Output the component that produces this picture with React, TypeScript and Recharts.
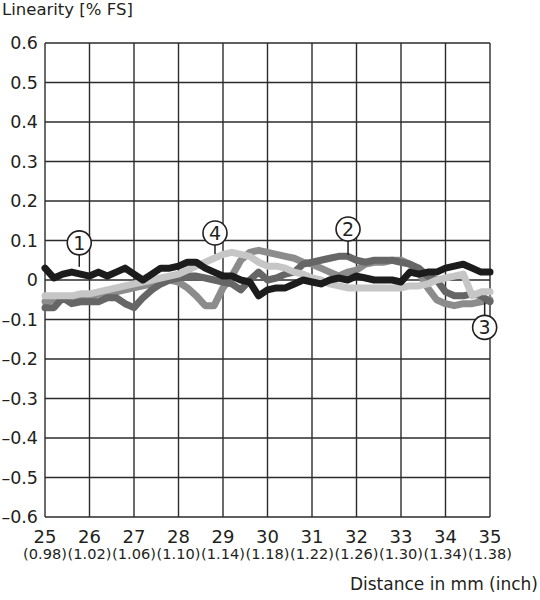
import React from "react";
import {
  LineChart,
  Line,
  XAxis,
  YAxis,
  CartesianGrid,
  ReferenceDot,
} from "recharts";

const DISTANCE = [
  25.0, 25.2, 25.4, 25.6, 25.8, 26.0, 26.2, 26.4, 26.6, 26.8,
  27.0, 27.2, 27.4, 27.6, 27.8, 28.0, 28.2, 28.4, 28.6, 28.8,
  29.0, 29.2, 29.4, 29.6, 29.8, 30.0, 30.2, 30.4, 30.6, 30.8,
  31.0, 31.2, 31.4, 31.6, 31.8, 32.0, 32.2, 32.4, 32.6, 32.8,
  33.0, 33.2, 33.4, 33.6, 33.8, 34.0, 34.2, 34.4, 34.6, 34.8, 35.0,
];

// sensor 1 (black)
const S1 = [
  0.03, 0.005, 0.015, 0.02, 0.015, 0.01, 0.02, 0.01, 0.02, 0.03,
  0.015, 0.0, 0.015, 0.03, 0.03, 0.035, 0.045, 0.045, 0.03, 0.02,
  0.01, 0.01, 0.0, -0.005, -0.04, -0.025, -0.02, -0.02, -0.01, 0.0,
  -0.005, -0.01, 0.0, 0.005, 0.0, 0.01, 0.005, 0.0, 0.0, 0.0,
  -0.005, 0.02, 0.015, 0.02, 0.02, 0.03, 0.035, 0.04, 0.03, 0.02, 0.02,
];

// sensor 2 (dark grey)
const S2 = [
  -0.07, -0.07, -0.045, -0.06, -0.055, -0.055, -0.055, -0.045, -0.045, -0.06,
  -0.07, -0.045, -0.025, -0.01, 0.0, 0.005, 0.01, 0.01, 0.005, 0.0,
  -0.005, -0.01, -0.025, 0.0, 0.02, 0.0, 0.005, 0.015, 0.02, 0.04,
  0.045, 0.05, 0.055, 0.06, 0.06, 0.05, 0.045, 0.05, 0.05, 0.05,
  0.045, 0.04, 0.03, 0.01, 0.0, -0.03, -0.04, -0.04, -0.035, -0.04, -0.055,
];

// sensor 3 (mid grey)
const S3 = [
  -0.055, -0.05, -0.045, -0.045, -0.045, -0.045, -0.035, -0.03, -0.03, -0.025,
  -0.02, -0.015, -0.01, -0.005, 0.0, -0.005, -0.02, -0.04, -0.065, -0.065,
  -0.02, 0.01, 0.05, 0.07, 0.075, 0.07, 0.065, 0.06, 0.055, 0.045,
  0.04, 0.03, 0.02, 0.01, 0.02, 0.025, 0.04, 0.045, 0.045, 0.05,
  0.05, 0.04, 0.02, -0.02, -0.05, -0.06, -0.065, -0.06, -0.06, -0.055, -0.05,
];

// sensor 4 (light grey)
const S4 = [
  -0.04, -0.04, -0.04, -0.04, -0.035, -0.035, -0.03, -0.025, -0.02, -0.015,
  -0.01, -0.005, 0.0, 0.005, 0.01, 0.015, 0.025, 0.035, 0.045, 0.055,
  0.065, 0.07, 0.065, 0.06, 0.045, 0.035, 0.035, 0.03, 0.02, 0.015,
  0.005, 0.0, -0.01, -0.015, -0.02, -0.02, -0.02, -0.02, -0.02, -0.02,
  -0.02, -0.015, -0.015, -0.01, 0.0, 0.005, 0.01, 0.015, -0.04, -0.03, -0.03,
];

const MM_TICKS = [25, 26, 27, 28, 29, 30, 31, 32, 33, 34, 35];
const INCH_LABELS = [
  "(0.98)", "(1.02)", "(1.06)", "(1.10)", "(1.14)", "(1.18)",
  "(1.22)", "(1.26)", "(1.30)", "(1.34)", "(1.38)",
];
const Y_TICKS = [0.6, 0.5, 0.4, 0.3, 0.2, 0.1, 0, -0.1, -0.2, -0.3, -0.4, -0.5, -0.6];

// circled callouts: position in data units, pointer direction/length in px
const CALLOUTS = [
  { id: "1", x: 25.77, y: 0.094, dir: 1, len: 12 },
  { id: "2", x: 31.81, y: 0.129, dir: 1, len: 14 },
  { id: "3", x: 34.88, y: -0.12, dir: -1, len: 13 },
  { id: "4", x: 28.82, y: 0.119, dir: 1, len: 9 },
];

const data = DISTANCE.map((d, i) => ({
  d,
  s1: S1[i],
  s2: S2[i],
  s3: S3[i],
  s4: S4[i],
}));

const FONT = "DejaVu Sans";
const INK = "#231f20";

const fmtY = (v: number) => {
  if (Math.abs(v) < 1e-9) return "0";
  return (v < 0 ? "\u2013" : "") + Math.abs(v).toFixed(1);
};

const YTick = ({ x, y, payload }: any) => (
  <text x={x - 7} y={y + 6} textAnchor="end" fontSize={17.5} fontFamily={FONT} fill={INK}>
    {fmtY(payload.value)}
  </text>
);

const XTick = ({ x, y, payload }: any) => {
  const idx = MM_TICKS.indexOf(payload.value);
  return (
    <g>
      <text x={x} y={y + 26} textAnchor="middle" fontSize={18} fontFamily={FONT} fill={INK}>
        {payload.value}
      </text>
      <text x={x} y={y + 42} textAnchor="middle" fontSize={14.6} fontFamily={FONT} fill={INK}>
        {INCH_LABELS[idx]}
      </text>
    </g>
  );
};

const calloutShape = (id: string, dir: number, len: number) => (props: any) => {
  const { cx, cy } = props;
  const r = 12;
  return (
    <g>
      <line x1={cx} y1={cy + dir * r} x2={cx} y2={cy + dir * (r + len)} stroke={INK} strokeWidth={1.5} />
      <circle cx={cx} cy={cy} r={r} fill="#fff" stroke={INK} strokeWidth={1.6} />
      <text x={cx} y={cy + 7} textAnchor="middle" fontSize={19} fontFamily={FONT} fill={INK}>
        {id}
      </text>
    </g>
  );
};

const lineProps = {
  type: "linear" as const,
  dot: false,
  strokeWidth: 7,
  strokeLinejoin: "round" as const,
  strokeLinecap: "round" as const,
  isAnimationActive: false,
};

export default function App() {
  return (
    <div style={{ position: "absolute", left: 0, top: 0, width: 540, height: 600, background: "#fff" }}>
      <div
        style={{
          position: "absolute",
          left: 2,
          top: 0,
          fontFamily: FONT,
          fontSize: 16.5,
          color: INK,
          whiteSpace: "nowrap",
        }}
      >
        Linearity [% FS]
      </div>
      <LineChart
        width={540}
        height={600}
        data={data}
        margin={{ top: 43, right: 50, bottom: 0, left: 0 }}
      >
        <CartesianGrid stroke="#2b2b2b" strokeWidth={1.4} />
        <XAxis
          dataKey="d"
          type="number"
          domain={[25, 35]}
          ticks={MM_TICKS}
          height={83}
          axisLine={false}
          tickLine={false}
          tickSize={0}
          tickMargin={0}
          interval={0}
          tick={<XTick />}
        />
        <YAxis
          type="number"
          domain={[-0.6, 0.6]}
          ticks={Y_TICKS}
          width={45}
          axisLine={false}
          tickLine={false}
          tickSize={0}
          tickMargin={0}
          interval={0}
          tick={<YTick />}
        />
        <Line dataKey="s3" stroke="#8c8c8c" {...lineProps} />
        <Line dataKey="s2" stroke="#666666" {...lineProps} />
        <Line dataKey="s4" stroke="#c6c6c6" {...lineProps} />
        <Line dataKey="s1" stroke="#1c1c1c" {...lineProps} />
        {CALLOUTS.map((c) => (
          <ReferenceDot key={c.id} x={c.x} y={c.y} shape={calloutShape(c.id, c.dir, c.len)} />
        ))}
      </LineChart>
      <div
        style={{
          position: "absolute",
          right: 2,
          top: 574,
          fontFamily: FONT,
          fontSize: 17,
          color: INK,
          whiteSpace: "nowrap",
        }}
      >
        Distance in mm (inch)
      </div>
    </div>
  );
}
